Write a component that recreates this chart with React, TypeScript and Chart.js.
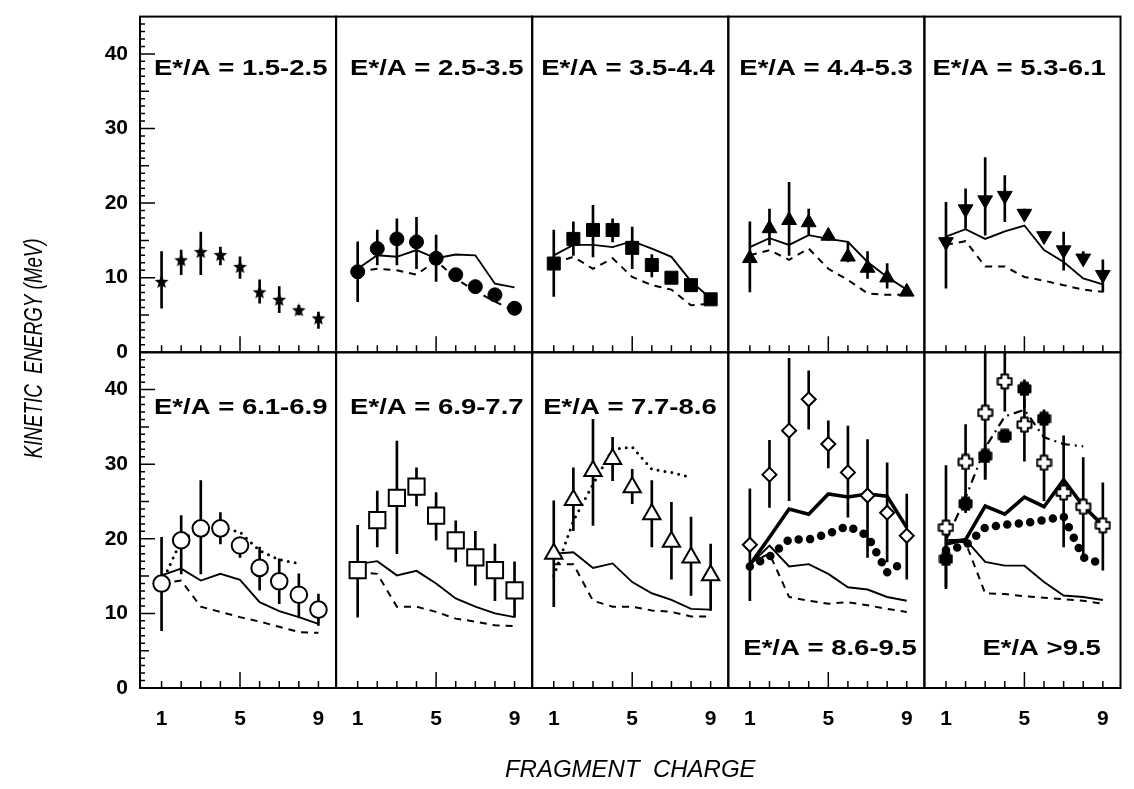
import React, { useEffect, useRef } from 'react';
import { Chart, registerables } from 'chart.js';

Chart.register(...registerables);

const FONT = '"Liberation Sans", Arial, Helvetica, sans-serif';

// ---------- axes / categories ----------
const charges = [1, 2, 3, 4, 5, 6, 7, 8, 9];
const xTickValues = [1, 5, 9];
const yTickValues = [0, 10, 20, 30, 40];
const chargeMin = -0.1;
const chargeMax = 9.9;
const energyMax = 45;
const xTitle = 'FRAGMENT  CHARGE';
const yTitle = 'KINETIC  ENERGY (MeV)';

const panelLabels = [
  'E*/A = 1.5-2.5', 'E*/A = 2.5-3.5', 'E*/A = 3.5-4.4', 'E*/A = 4.4-5.3', 'E*/A = 5.3-6.1',
  'E*/A = 6.1-6.9', 'E*/A = 6.9-7.7', 'E*/A = 7.7-8.6', 'E*/A = 8.6-9.5', 'E*/A >9.5',
];

// ---------- data (kinetic energy in MeV vs fragment charge) ----------
// Panel 1: E*/A = 1.5-2.5
const p1Star = [9.5, 12.4, 13.5, 13.1, 11.5, 8.1, 7.1, 5.7, 4.6];
const p1StarLo = [5.9, 10.4, 10.4, 11.7, 9.9, 6.6, 5.3, 5.0, 3.2];
const p1StarHi = [13.5, 13.7, 16.1, 14.1, 12.8, 9.7, 8.8, 6.3, 5.4];

// Panel 2: E*/A = 2.5-3.5
const p2Circle = [10.8, 13.9, 15.2, 14.8, 12.6, 10.4, 8.8, 7.7, 5.9];
const p2CircleLo = [6.8, 11.7, 11.7, 11.2, 9.5, 9.6, 8.2, 7.0, 5.3];
const p2CircleHi = [14.8, 16.4, 17.9, 18.1, 15.7, 11.2, 9.4, 8.4, 6.5];
const p2Solid = [11.2, 13.0, 12.8, 13.7, 12.6, 13.1, 13.0, 9.2, 8.7];
const p2Dashed = [10.8, 11.2, 11.0, 10.4, 12.3, 9.9, 8.2, 6.8, 5.5];

// Panel 3: E*/A = 3.5-4.4
const p3Square = [11.9, 15.2, 16.4, 16.4, 14.0, 11.7, 10.0, 9.0, 7.1];
const p3SquareLo = [7.5, 13.0, 12.8, 14.8, 11.2, 10.1, 9.4, 8.2, 6.5];
const p3SquareHi = [16.4, 17.5, 19.7, 17.9, 16.8, 13.1, 10.6, 9.8, 7.7];
const p3Solid = [13.0, 14.4, 14.4, 14.1, 14.9, 13.9, 12.8, 9.5, 7.2];
const p3Dashed = [11.9, 12.8, 11.2, 12.6, 10.1, 9.0, 8.4, 6.3, 6.5];

// Panel 4: E*/A = 4.4-5.3
const p4Tri = [12.6, 16.6, 17.7, 17.4, 15.6, 12.8, 11.3, 10.0, 8.1];
const p4TriLo = [8.1, 14.4, 13.0, 15.7, 15.0, 12.1, 9.9, 8.6, 7.6];
const p4TriHi = [17.5, 19.2, 22.8, 19.2, 16.2, 14.8, 13.5, 11.9, 8.6];
const p4Solid = [14.1, 15.3, 14.4, 15.7, 15.2, 14.8, 12.1, 10.1, 8.4];
const p4Dashed = [13.0, 13.7, 12.4, 13.9, 11.2, 9.7, 7.9, 7.7, 7.7];

// Panel 5: E*/A = 5.3-6.1
const p5Down = [14.8, 19.2, 20.4, 21.0, 18.6, 15.6, 13.7, 12.6, 10.4];
const p5DownLo = [8.6, 16.6, 15.7, 17.5, 18.0, 15.0, 11.0, 11.8, 8.1];
const p5DownHi = [20.1, 21.9, 26.1, 23.7, 19.2, 16.2, 16.1, 13.5, 12.4];
const p5Solid = [15.5, 16.5, 15.2, 16.2, 17.0, 13.7, 12.1, 9.9, 9.1];
const p5Dashed = [14.4, 14.9, 11.5, 11.5, 10.1, 9.6, 9.0, 8.4, 8.1];

// Panel 6: E*/A = 6.1-6.9
const p6Circle = [14.0, 19.8, 21.4, 21.4, 19.1, 16.1, 14.3, 12.5, 10.5];
const p6CircleLo = [7.7, 15.3, 15.3, 19.3, 17.5, 13.1, 11.3, 9.5, 8.4];
const p6CircleHi = [20.2, 23.1, 27.8, 23.5, 20.2, 18.9, 17.3, 15.3, 12.6];
const p6Solid = [15.1, 16.0, 14.4, 15.3, 14.5, 11.5, 10.3, 9.5, 8.6];
const p6Dashed = [14.0, 14.4, 10.9, 10.2, 9.5, 8.9, 8.2, 7.5, 7.4];
const p6Dotted = [14.0, 19.8, 21.4, 21.5, 20.9, 18.4, 17.2, 16.7, null];

// Panel 7: E*/A = 6.9-7.7
const p7Square = [15.8, 22.5, 25.5, 27.0, 23.1, 19.8, 17.5, 15.8, 13.1];
const p7SquareLo = [9.5, 18.9, 18.0, 24.4, 19.8, 16.9, 13.8, 11.7, 9.5];
const p7SquareHi = [21.8, 26.4, 33.1, 29.5, 26.2, 22.4, 21.0, 19.3, 16.9];
const p7Solid = [16.6, 17.0, 15.1, 15.7, 14.0, 12.0, 10.9, 10.0, 9.5];
const p7Dashed = [15.5, 15.3, 10.9, 10.9, 10.2, 9.3, 8.9, 8.4, 8.3];

// Panel 8: E*/A = 7.7-8.6
const p8Tri = [18.0, 25.2, 29.1, 30.7, 26.9, 23.3, 19.6, 17.5, 15.1];
const p8TriLo = [10.9, 21.1, 21.8, 27.8, 24.7, 18.9, 14.6, 12.4, 10.4];
const p8TriHi = [25.1, 29.5, 36.0, 33.6, 29.3, 27.8, 24.9, 22.9, 19.3];
const p8Solid = [18.0, 18.2, 16.1, 16.7, 14.2, 12.7, 11.8, 10.6, 10.5];
const p8Dashed = [16.6, 16.6, 11.7, 10.9, 10.9, 10.4, 10.2, 9.6, 9.6];
const p8Dotted = [15.0, 22.4, 27.3, 32.0, 32.3, 29.3, 28.9, 28.2, null];

// Panel 9: E*/A = 8.6-9.5
const p9Diamond = [19.2, 28.6, 34.5, 38.7, 32.7, 28.9, 25.8, 23.5, 20.4];
const p9DiamondLo = [11.7, 24.2, 25.1, 34.7, 29.5, 22.9, 17.5, 16.9, 14.6];
const p9DiamondHi = [26.7, 33.2, 44.2, 42.5, 35.8, 35.1, 33.3, 30.2, 26.0];
const p9Thick = [16.5, 20.2, 24.0, 23.3, 26.0, 25.6, 26.0, 25.7, 21.5];
const p9Dots = [16.3, 17.6, 19.9, 19.9, 20.7, 21.7, 20.4, 15.5, 17.1];
const p9Solid = [16.5, 19.1, 16.3, 16.6, 15.3, 13.5, 13.2, 12.2, 11.7];
const p9Dashed = [16.8, 18.0, 12.2, 11.7, 11.3, 11.5, 11.1, 10.6, 10.2];

// Panel 10: E*/A > 9.5
const p10Open = [21.5, 30.3, 36.9, 41.1, 35.3, 30.2, 26.2, 24.3, 21.8];
const p10OpenLo = [13.5, 25.1, 28.0, 37.1, 30.4, 25.1, 18.9, 18.0, 15.8];
const p10OpenHi = [29.8, 35.3, 44.9, 44.9, 38.7, 35.3, 33.8, 30.9, 27.5];
const p10Filled = [17.3, 24.7, 31.1, 33.8, 40.1, 36.1];
const p10FilledLo = [13.3, 23.5, 28.0, 33.0, 37.6, 33.6];
const p10FilledHi = [20.7, 26.0, 32.7, 34.6, 41.3, 37.3];
const p10DashDot = [19.8, 25.5, 32.2, 36.4, 37.3, 33.6, 32.7, 32.4, null];
const p10Thick = [19.3, 19.9, 24.4, 23.3, 25.6, 24.3, 27.9, 24.4, 21.8];
const p10Dots = [18.5, 19.1, 21.5, 21.9, 22.1, 22.5, 23.0, 17.5, 16.6];
const p10Solid = [19.8, 19.9, 16.9, 16.4, 16.4, 14.2, 12.4, 12.2, 11.8];
const p10Dashed = [19.8, 19.5, 12.7, 12.6, 12.3, 12.1, 11.9, 11.7, 11.3];

// ---------- panel composition ----------
const panels: any[] = [
  { col: 0, row: 0, points: [{ marker: 'star', values: p1Star, lo: p1StarLo, hi: p1StarHi }], lines: [] },
  { col: 1, row: 0, points: [{ marker: 'fcircle', values: p2Circle, lo: p2CircleLo, hi: p2CircleHi }],
    lines: [{ kind: 'solid', values: p2Solid }, { kind: 'dashed', values: p2Dashed }] },
  { col: 2, row: 0, points: [{ marker: 'fsquare', values: p3Square, lo: p3SquareLo, hi: p3SquareHi }],
    lines: [{ kind: 'solid', values: p3Solid }, { kind: 'dashed', values: p3Dashed }] },
  { col: 3, row: 0, points: [{ marker: 'ftri', values: p4Tri, lo: p4TriLo, hi: p4TriHi }],
    lines: [{ kind: 'solid', values: p4Solid }, { kind: 'dashed', values: p4Dashed }] },
  { col: 4, row: 0, points: [{ marker: 'fdown', values: p5Down, lo: p5DownLo, hi: p5DownHi }],
    lines: [{ kind: 'solid', values: p5Solid }, { kind: 'dashed', values: p5Dashed }] },
  { col: 0, row: 1, points: [{ marker: 'ocircle', values: p6Circle, lo: p6CircleLo, hi: p6CircleHi }],
    lines: [{ kind: 'solid', values: p6Solid }, { kind: 'dashed', values: p6Dashed }, { kind: 'dotted', values: p6Dotted }] },
  { col: 1, row: 1, points: [{ marker: 'osquare', values: p7Square, lo: p7SquareLo, hi: p7SquareHi }],
    lines: [{ kind: 'solid', values: p7Solid }, { kind: 'dashed', values: p7Dashed }] },
  { col: 2, row: 1, points: [{ marker: 'otri', values: p8Tri, lo: p8TriLo, hi: p8TriHi }],
    lines: [{ kind: 'solid', values: p8Solid }, { kind: 'dashed', values: p8Dashed }, { kind: 'dotted', values: p8Dotted }] },
  { col: 3, row: 1, points: [{ marker: 'odiamond', values: p9Diamond, lo: p9DiamondLo, hi: p9DiamondHi }],
    lines: [{ kind: 'thick', values: p9Thick }, { kind: 'bigdots', values: p9Dots }, { kind: 'solid', values: p9Solid }, { kind: 'dashed', values: p9Dashed }] },
  { col: 4, row: 1, points: [
      { marker: 'ocross', values: p10Open, lo: p10OpenLo, hi: p10OpenHi },
      { marker: 'fcross', values: p10Filled, lo: p10FilledLo, hi: p10FilledHi }],
    lines: [{ kind: 'dashdot', values: p10DashDot }, { kind: 'thick', values: p10Thick }, { kind: 'bigdots', values: p10Dots },
      { kind: 'solid', values: p10Solid }, { kind: 'dashed', values: p10Dashed }] },
];

// label placement (layout, not data): offset from panel left in px, height in axis units
const labelPlacement = [
  { dx: 14, v: 38 }, { dx: 14, v: 38 }, { dx: 9, v: 38 }, { dx: 11, v: 38 }, { dx: 8, v: 38 },
  { dx: 14, v: 37.5 }, { dx: 14, v: 37.5 }, { dx: 11, v: 37.5 }, { dx: 15, v: 5.3 }, { dx: 58, v: 5.3 },
];

const colIds = ['x0', 'x1', 'x2', 'x3', 'x4'];
const rowIds = ['yT', 'yB'];

// ---------- marker sprites ----------
function makeStar(size: number) {
  const c = document.createElement('canvas');
  c.width = size; c.height = size;
  const g = c.getContext('2d') as CanvasRenderingContext2D;
  const R = size / 2 - 0.3, r = R * 0.45, cx = size / 2, cy = size / 2 + 0.8;
  g.beginPath();
  for (let i = 0; i < 10; i++) {
    const a = -Math.PI / 2 + (i * Math.PI) / 5;
    const rr = i % 2 ? r : R;
    g.lineTo(cx + rr * Math.cos(a), cy + rr * Math.sin(a));
  }
  g.closePath();
  g.fillStyle = '#000';
  g.fill();
  return c;
}

function makeCross(size: number, half: number, filled: boolean) {
  const c = document.createElement('canvas');
  c.width = size; c.height = size;
  const g = c.getContext('2d') as CanvasRenderingContext2D;
  const m = size / 2, R = size / 2 - 1.5, a = half;
  const pts = [[-a, -R], [a, -R], [a, -a], [R, -a], [R, a], [a, a], [a, R], [-a, R], [-a, a], [-R, a], [-R, -a], [-a, -a]];
  g.beginPath();
  pts.forEach(([px, py], i) => (i ? g.lineTo(m + px, m + py) : g.moveTo(m + px, m + py)));
  g.closePath();
  g.lineJoin = 'round';
  g.fillStyle = filled ? '#000' : '#fff';
  g.fill();
  g.lineWidth = 2;
  g.strokeStyle = '#000';
  g.stroke();
  return c;
}

function markerOptions(kind: string, sprites: any) {
  const black = { pointBackgroundColor: '#000', pointBorderColor: '#000', pointBorderWidth: 1 };
  const open = { pointBackgroundColor: '#fff', pointBorderColor: '#000', pointBorderWidth: 2 };
  switch (kind) {
    case 'star': return { pointStyle: sprites.star, pointRadius: 7 };
    case 'fcircle': return { pointStyle: 'circle', pointRadius: 7, ...black };
    case 'fsquare': return { pointStyle: 'rect', pointRadius: 9.2, ...black };
    case 'ftri': return { pointStyle: 'triangle', pointRadius: 8.5, ...black };
    case 'fdown': return { pointStyle: 'triangle', pointRotation: 180, pointRadius: 8.5, ...black };
    case 'ocircle': return { pointStyle: 'circle', pointRadius: 8.3, ...open };
    case 'osquare': return { pointStyle: 'rect', pointRadius: 11.5, ...open };
    case 'otri': return { pointStyle: 'triangle', pointRadius: 10, ...open };
    case 'odiamond': return { pointStyle: 'rectRot', pointRadius: 7, ...open };
    case 'ocross': return { pointStyle: sprites.ocross, pointRadius: 8 };
    case 'fcross': return { pointStyle: sprites.fcross, pointRadius: 8 };
    default: return {};
  }
}

const lineKinds: any = {
  solid: { borderWidth: 1.9 },
  thick: { borderWidth: 3.6 },
  dashed: { borderWidth: 2, borderDash: [7, 6] },
  dotted: { borderWidth: 3, borderDash: [0, 7], borderCapStyle: 'round' },
  dashdot: { borderWidth: 2.2, borderDash: [9, 5, 2, 5] },
  bigdots: { borderWidth: 8.5, borderDash: [0, 11.5], borderCapStyle: 'round' },
};

function buildDatasets(sprites: any) {
  const out: any[] = [];
  panels.forEach((p) => {
    const xAxisID = colIds[p.col];
    const yAxisID = rowIds[p.row];
    p.points.forEach((s: any) => {
      const n = s.values.length;
      out.push({
        type: 'bar', xAxisID, yAxisID, order: 3,
        data: charges.slice(0, n).map((z, i) => ({ x: z, y: [s.lo[i], s.hi[i]] })),
        backgroundColor: '#000', borderWidth: 0, barThickness: 2, grouped: false,
      });
      out.push({
        type: 'line', xAxisID, yAxisID, order: 0, showLine: false,
        data: charges.slice(0, n).map((z, i) => ({ x: z, y: s.values[i] })),
        ...markerOptions(s.marker, sprites),
      });
    });
    p.lines.forEach((l: any) => {
      out.push({
        type: 'line', xAxisID, yAxisID, order: 1,
        data: charges.map((z, i) => ({ x: z, y: l.values[i] })),
        borderColor: '#000', pointRadius: 0, tension: 0, fill: false,
        ...lineKinds[l.kind],
      });
    });
  });
  return out;
}

const panelFramePlugin = {
  id: 'panelFrames',
  afterDraw(chart: any) {
    const ctx = chart.ctx as CanvasRenderingContext2D;
    ctx.save();
    ctx.strokeStyle = '#000';
    ctx.fillStyle = '#000';
    rowIds.forEach((rowId, r) => {
      colIds.forEach((colId, c) => {
        const xs = chart.scales[colId];
        const ys = chart.scales[rowId];
        ctx.lineWidth = 2;
        ctx.strokeRect(xs.left, ys.top, xs.right - xs.left, ys.bottom - ys.top);
        ctx.lineWidth = 1.5;
        ctx.beginPath();
        charges.forEach((z) => {
          const px = xs.getPixelForValue(z);
          const len = z === 5 ? 16 : 7;
          ctx.moveTo(px, ys.bottom);
          ctx.lineTo(px, ys.bottom - len);
        });
        if (c === 0) {
          for (let v = 1; v < energyMax; v++) {
            const py = ys.getPixelForValue(v);
            const len = v % 10 === 0 ? 15 : v % 5 === 0 ? 9 : 5;
            ctx.moveTo(xs.left, py);
            ctx.lineTo(xs.left + len, py);
          }
        }
        ctx.stroke();
        // panel label: wide bold type (horizontally stretched like the scanned original)
        const idx = r * 5 + c;
        const lp = labelPlacement[idx];
        ctx.save();
        ctx.translate(xs.left + lp.dx, ys.getPixelForValue(lp.v));
        ctx.scale(1.25, 1);
        ctx.font = `bold 22px ${FONT}`;
        ctx.textBaseline = 'middle';
        ctx.textAlign = 'left';
        ctx.fillText(panelLabels[idx], 0, 0);
        ctx.restore();
      });
    });
    // vertical axis title, condensed along its length like the original
    const area = chart.chartArea;
    ctx.save();
    ctx.translate(35, (area.top + area.bottom) / 2 - 4);
    ctx.rotate(-Math.PI / 2);
    ctx.scale(0.75, 1);
    ctx.font = `italic 25px ${FONT}`;
    ctx.textAlign = 'center';
    ctx.textBaseline = 'middle';
    ctx.fillText(yTitle, 0, 0);
    ctx.restore();
    ctx.restore();
  },
};

export default function App() {
  const ref = useRef<HTMLCanvasElement>(null);
  useEffect(() => {
    const canvas = ref.current as HTMLCanvasElement;
    const sprites = {
      star: makeStar(15),
      ocross: makeCross(17, 3.3, false),
      fcross: makeCross(15, 3.6, true),
    };
    const tickFont = { family: FONT, size: 21, weight: 'bold' as const };
    const scales: any = {};
    colIds.forEach((id) => {
      scales[id] = {
        type: 'linear', position: 'bottom', stack: 'cols', stackWeight: 1,
        min: chargeMin, max: chargeMax, offset: false,
        grid: { display: false, offset: false }, border: { display: false },
        ticks: { font: tickFont, color: '#000', padding: 11, maxRotation: 0, autoSkip: false, callback: (v: any) => String(v) },
        afterBuildTicks: (axis: any) => { axis.ticks = xTickValues.map((v) => ({ value: v })); },
        afterFit: (axis: any) => { axis.height = 50; },
      };
    });
    rowIds.forEach((id, r) => {
      scales[id] = {
        type: 'linear', position: 'left', stack: 'rows', stackWeight: 1, weight: r === 0 ? 1 : 0,
        min: 0, max: energyMax,
        grid: { display: false }, border: { display: false },
        ticks: { font: tickFont, color: '#000', padding: 4, autoSkip: false, callback: (v: any) => String(v) },
        afterBuildTicks: (axis: any) => { axis.ticks = yTickValues.map((v) => ({ value: v })); },
        afterFit: (axis: any) => { axis.width = 90.6; },
      };
    });
    const xTitleFont = { family: FONT, size: 24, style: 'italic' as const, weight: 'normal' as const };
    const chart = new Chart(canvas, {
      type: 'line',
      data: { datasets: buildDatasets(sprites) as any },
      options: {
        responsive: false,
        animation: false,
        devicePixelRatio: 1,
        layout: { padding: { left: 49.4, top: 12, right: 2, bottom: 0 } },
        scales,
        plugins: {
          legend: { display: false },
          tooltip: { enabled: false },
          title: {
            display: true, text: xTitle, position: 'bottom', fullSize: false,
            font: xTitleFont, color: '#000', padding: { top: 17.6, bottom: 4.6 },
          },
        },
      } as any,
      plugins: [panelFramePlugin],
    });
    return () => chart.destroy();
  }, []);
  return (
    <div style={{ position: 'absolute', left: 0, top: 0, width: 1134, height: 789, background: '#fff' }}>
      <canvas ref={ref} width={1134} height={789} style={{ display: 'block' }} />
    </div>
  );
}
